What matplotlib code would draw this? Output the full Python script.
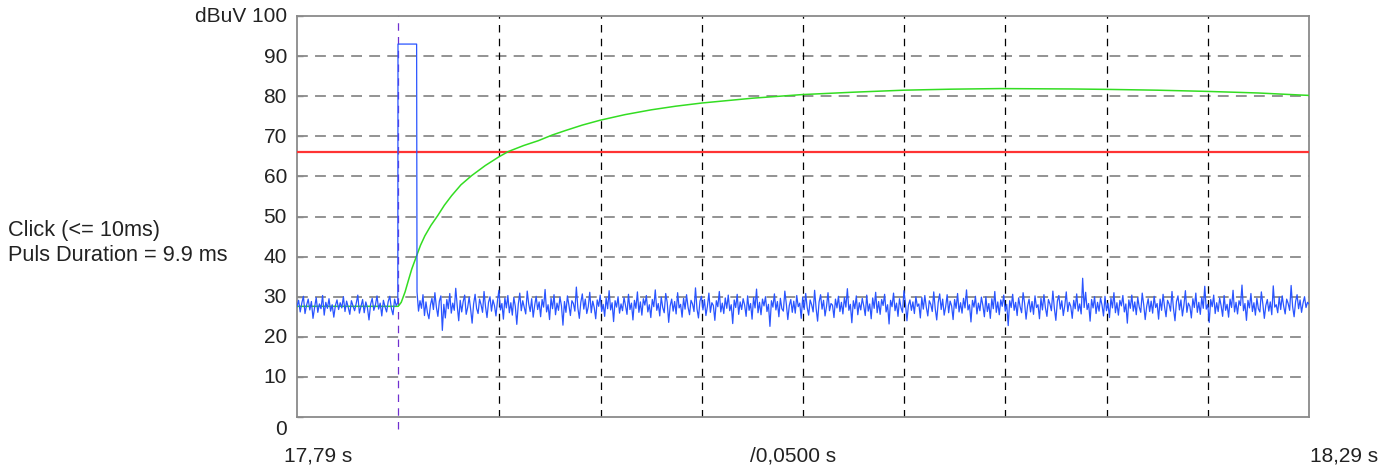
import numpy as np
import matplotlib
matplotlib.use("Agg")
import matplotlib.pyplot as plt

plt.rcParams['font.family'] = ['Liberation Sans', 'DejaVu Sans']

# ---- data ----
t_start, t_end = 17.79, 18.29
division = 0.05
y_ticks = [0, 10, 20, 30, 40, 50, 60, 70, 80, 90, 100]
limit_level = 66
marker_time = 17.84

pre_noise = [
    27.5, 29.1, 26.2, 28.4, 30.1, 25.8, 27.9, 29.4, 26.7, 28.8,
    24.6, 27.3, 29.8, 26.1, 28.2, 27.0, 30.3, 25.4, 28.6, 27.1,
    29.5, 26.4, 28.0, 24.9, 27.8, 29.2, 26.8, 28.5, 27.2, 30.0,
    26.3, 28.9, 27.4, 25.6, 29.0, 27.7, 26.5, 28.3, 30.4, 25.9,
    27.6, 29.3, 26.0, 28.7, 27.3, 24.2, 28.1, 29.6, 26.6, 27.9,
    30.2, 26.9, 28.4, 25.2, 29.1, 27.5, 26.2, 28.8, 30.1, 27.0,
    25.5, 29.4, 27.8, 28.5,
]
pulse_time = [17.8399, 17.8491]
pulse_level = [93, 93]
post_noise = [
    31.2, 26.4, 29.0, 27.1, 30.5, 25.3, 28.7, 26.0, 24.5, 27.9, 29.6, 26.8, 31.0, 27.4, 25.1, 28.9, 30.2, 21.6, 28.1, 24.7,
    29.3, 27.0, 30.8, 25.9, 28.4, 26.6, 32.1, 27.7, 24.0, 29.1, 26.2, 28.8, 30.4, 25.6, 27.3, 29.9, 26.9, 23.4, 28.2, 30.6,
    27.1, 25.8, 29.4, 28.0, 26.1, 31.3, 27.5, 24.8, 28.6, 30.0, 26.4, 29.2, 27.8, 25.2, 28.9, 31.6, 26.7, 28.3, 24.4, 29.7,
    27.2, 30.3, 26.0, 28.5, 25.4, 29.8, 27.6, 23.1, 28.1, 30.9, 26.5, 29.0, 27.3, 25.7, 31.4, 28.2, 26.3, 29.5, 24.9, 27.8,
    30.1, 26.8, 28.7, 25.0, 29.3, 27.4, 31.8, 26.2, 28.0, 24.3, 29.6, 27.0, 30.5, 25.5, 28.4, 26.6, 29.9, 27.7, 22.9, 28.8,
    26.1, 30.2, 27.9, 25.3, 29.0, 28.3, 26.4, 32.4, 27.2, 24.6, 28.6, 30.7, 26.9, 29.4, 25.8, 27.5, 31.1, 26.0, 28.9, 27.3,
    24.5, 29.2, 27.6, 30.4, 26.3, 28.1, 25.1, 29.7, 27.0, 31.5, 26.7, 28.5, 23.8, 29.0, 27.4, 30.0, 25.9, 28.2, 26.5, 29.8,
    27.8, 25.6, 30.6, 26.8, 28.4, 24.2, 29.1, 27.1, 31.2, 26.1, 28.7, 25.4, 29.5, 27.9, 30.3, 26.2, 28.0, 24.8, 29.3, 27.5,
    31.7, 26.6, 28.3, 25.2, 29.9, 27.3, 26.0, 30.8, 28.6, 23.6, 27.7, 29.4, 26.4, 28.8, 25.7, 31.0, 27.2, 28.1, 24.9, 29.6,
    26.9, 30.5, 27.4, 25.5, 29.1, 28.2, 26.3, 32.2, 27.0, 24.7, 28.9, 30.1, 26.7, 29.3, 25.3, 27.6, 30.9, 26.1, 28.5, 27.8,
    24.1, 29.0, 27.5, 31.3, 26.2, 28.4, 25.8, 29.7, 27.1, 30.4, 26.5, 28.0, 23.3, 29.2, 27.3, 30.6, 25.6, 28.7, 26.8, 29.5,
    27.9, 25.1, 30.2, 26.6, 28.3, 24.4, 29.8, 27.2, 31.9, 26.0, 28.6, 25.5, 29.4, 27.7, 30.0, 26.3, 28.1, 22.6, 29.0, 27.4,
    30.7, 26.7, 28.8, 25.0, 29.6, 27.0, 26.4, 31.4, 28.2, 24.3, 27.8, 29.3, 26.1, 28.9, 25.9, 30.3, 27.5, 28.4, 24.6, 29.9,
    26.8, 30.8, 27.3, 25.4, 29.2, 28.0, 26.2, 31.6, 27.1, 23.9, 28.7, 30.5, 26.9, 29.1, 25.2, 27.6, 31.0, 26.5, 28.3, 27.9,
    24.8, 29.4, 27.2, 30.1, 26.3, 28.6, 25.7, 29.8, 27.4, 32.0, 26.6, 28.1, 23.5, 29.0, 27.0, 30.2, 25.5, 28.5, 26.7, 29.6,
    27.7, 25.3, 30.4, 26.4, 28.2, 24.5, 29.7, 27.1, 31.1, 26.0, 28.8, 25.6, 29.3, 27.8, 30.6, 26.2, 28.0, 23.2, 29.1, 27.5,
    30.9, 26.5, 28.4, 25.1, 29.5, 27.3, 26.1, 31.5, 28.3, 24.0, 27.9, 29.2, 26.6, 28.7, 25.8, 30.0, 27.6, 28.2, 24.7, 29.8,
    26.9, 30.3, 27.4, 25.2, 29.0, 28.1, 26.3, 31.2, 27.0, 24.2, 28.6, 30.7, 26.8, 29.4, 25.4, 27.5, 30.5, 26.0, 28.9, 27.7,
    24.3, 29.3, 27.1, 30.8, 26.2, 28.5, 25.9, 29.6, 27.2, 31.7, 26.7, 28.0, 23.7, 29.1, 27.4, 30.1, 25.7, 28.4, 26.5, 29.9,
    27.8, 25.0, 30.0, 26.3, 28.3, 24.6, 29.5, 27.0, 31.3, 26.1, 28.7, 25.5, 29.2, 27.6, 30.4, 26.4, 28.1, 22.8, 29.0, 27.3,
    30.6, 26.6, 28.6, 25.3, 29.7, 27.5, 26.0, 31.0, 28.4, 24.4, 27.7, 29.4, 26.2, 28.8, 25.6, 30.2, 27.3, 28.0, 24.5, 29.6,
    26.7, 30.5, 27.2, 25.1, 29.3, 28.2, 26.5, 31.4, 27.1, 24.1, 28.9, 30.3, 26.9, 29.0, 25.3, 27.8, 31.2, 26.3, 28.6, 27.6,
    24.6, 29.1, 27.0, 30.7, 26.4, 28.2, 25.7, 34.6, 27.3, 31.1, 26.8, 28.3, 23.9, 29.3, 27.2, 30.0, 25.8, 28.6, 26.4, 29.7,
    27.9, 25.2, 30.1, 26.5, 28.4, 24.8, 29.6, 27.2, 31.0, 26.0, 28.5, 25.4, 29.1, 27.7, 30.3, 26.2, 28.2, 23.4, 29.2, 27.1,
    30.4, 26.4, 28.7, 25.5, 29.8, 27.4, 26.1, 30.9, 28.0, 24.3, 27.6, 29.5, 26.3, 28.9, 25.9, 30.1, 27.3, 28.3, 24.4, 29.4,
    26.6, 30.6, 27.5, 25.0, 29.1, 28.2, 26.4, 31.3, 27.0, 24.0, 28.8, 30.2, 26.7, 29.2, 25.2, 27.9, 31.5, 26.1, 28.4, 27.6,
    24.7, 29.5, 27.3, 30.9, 26.1, 28.6, 25.6, 29.8, 27.1, 32.6, 26.9, 28.1, 23.6, 29.3, 27.5, 30.4, 25.8, 28.5, 26.3, 29.7,
    27.7, 25.1, 30.3, 26.6, 28.1, 24.9, 29.4, 27.3, 31.6, 26.2, 28.6, 25.7, 29.0, 27.8, 32.9, 26.5, 28.3, 24.1, 29.1, 27.2,
    30.8, 26.3, 28.5, 25.4, 29.6, 27.0, 26.2, 31.2, 28.2, 24.6, 27.8, 29.3, 26.4, 28.7, 25.5, 32.7, 27.4, 28.0, 26.0, 29.9,
    26.8, 30.2, 27.6, 25.7, 29.4, 28.3, 26.6, 32.8, 27.5, 25.0, 28.8, 30.5, 27.0, 29.2, 26.1, 28.4, 30.0, 27.3, 28.6, 28.2,
]
green_time = [17.79, 17.8400, 17.8415, 17.8434, 17.8450, 17.8467, 17.8491, 17.8510, 17.8532,
              17.8562, 17.8595, 17.8628, 17.8664, 17.8710, 17.8763, 17.8830, 17.8895, 17.8944,
              17.9020, 17.9092, 17.9160, 17.9224, 17.9310, 17.9397, 17.9520, 17.9650, 17.9770,
              17.9900, 18.0150, 18.0395, 18.0650, 18.0899, 18.1130, 18.1373, 18.1734, 18.1902,
              18.2150, 18.2396, 18.2650, 18.2855, 18.2900]
green_level = [27.6, 27.6, 28.6, 31.2, 34.0, 36.9, 40.2, 42.8, 45.2, 47.8, 50.2, 52.8, 55.2,
               57.9, 60.2, 62.7, 64.8, 66.2, 67.7, 68.9, 70.3, 71.4, 72.8, 74.0, 75.4, 76.6,
               77.5, 78.3, 79.5, 80.4, 81.0, 81.5, 81.75, 81.9, 81.8, 81.7, 81.5, 81.2, 80.8,
               80.3, 80.2]

# ---- figure ----
W, H = 1392, 477
fig = plt.figure(figsize=(W / 100, H / 100), dpi=100)
ax = fig.add_axes([297 / W, 1 - 418 / H, (1309 - 297) / W, (418 - 17) / H])
ax.set_xlim(t_start, t_end)
ax.set_ylim(0, 100)

grey = '#8a8a8a'
for y in y_ticks[1:-1]:
    ax.axhline(y, color=grey, lw=1.3, dashes=(6, 4), zorder=1)
vt = t_start + division * np.arange(1, 10)
for x in vt:
    if abs(x - marker_time) < 1e-9:
        continue
    ax.axvline(x, color='black', lw=0.9, dashes=(6, 5), zorder=1)
ax.plot([marker_time, marker_time], [-3, 100], color='#7030d0', lw=0.9, dashes=(6, 5),
        zorder=2, clip_on=False)

ax.axhline(limit_level, color='#ff3333', lw=1.6, zorder=3)
ax.plot(green_time, green_level, color='#33dd22', lw=1.1, zorder=4)

pre_t = np.linspace(t_start, 17.8398, len(pre_noise))
post_t = np.linspace(17.8493, t_end, len(post_noise))
blue_t = np.concatenate([pre_t, pulse_time, post_t])
blue_v = np.concatenate([pre_noise, pulse_level, post_noise])
ax.plot(blue_t, blue_v, color='#2a55ff', lw=0.9, zorder=5)

for s in ax.spines.values():
    s.set_color(grey)
    s.set_linewidth(1.3)
ax.set_xticks([])
ax.set_yticks(y_ticks)
ax.set_yticklabels([])
ax.tick_params(axis='y', direction='in', length=4, color=grey, width=1.0)

fs = 15
txt = '#222222'
for y in y_ticks:
    lab = 'dBuV 100' if y == 100 else str(y)
    dy = -12 / 4.01 if y == 0 else 0
    ax.text(-10 / 1012, y + dy, lab, transform=ax.get_yaxis_transform(), ha='right',
            va='center', fontsize=fs, color=txt)

fig.text(284 / W, 1 - 456 / H, '17,79 s', ha='left', va='center', fontsize=fs, color=txt)
fig.text(793 / W, 1 - 456 / H, '/0,0500 s', ha='center', va='center', fontsize=fs, color=txt)
fig.text(1310 / W, 1 - 456 / H, '18,29 s', ha='left', va='center', fontsize=fs, color=txt)
fig.text(8 / W, 1 - 243 / H, 'Click (<= 10ms)\nPuls Duration = 9.9 ms', ha='left', va='center',
         fontsize=15.7, color=txt, linespacing=1.2)

fig.savefig('out.png', dpi=100)
